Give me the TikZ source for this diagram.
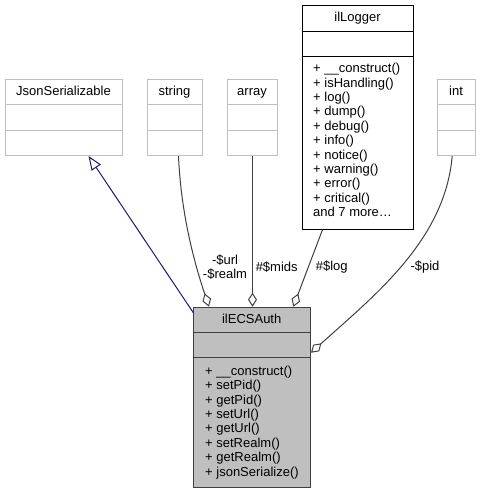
\documentclass[tikz,border=0pt]{standalone}
\usepackage{fontspec}
\setmainfont{Liberation Sans}
\usetikzlibrary{arrows.meta}

\definecolor{boxgray}{RGB}{191,191,191}
\definecolor{edgegray}{RGB}{64,64,64}
\definecolor{inhblue}{RGB}{25,25,112}

\tikzset{
  classbox/.style = {draw, anchor = north west, inner sep = 0,
    line width = 1pt},
  ghostbox/.style = {classbox, draw = boxgray},
  classname/.style = {anchor = base, inner sep = 0,
    font = \fontsize{13}{14.4}\selectfont},
  member/.style = {anchor = base west, inner sep = 0,
    font = \fontsize{13}{14.4}\selectfont},
  edgelabel/.style = {align = center, inner sep = 0,
    font = \fontsize{13}{14.4}\selectfont},
  usage/.style = {draw = edgegray, line width = 1pt,
    -{Diamond[open, length = 14pt, width = 9pt]}},
  inherit/.style = {draw = inhblue, line width = 1pt,
    -{Triangle[open, length = 14pt, width = 11pt]}}
}

\begin{document}
\begin{tikzpicture}[x = 1pt, y = -1pt]

  \useasboundingbox (0, 0) rectangle (481, 492);

  % the empty classes in the top row
  \foreach \name/\txt/\x/\w in {json/JsonSerializable/5/117,
      str/string/147/55, arr/array/227/50, int/int/437/38} {
    \node[ghostbox, minimum width = \w, minimum height = 76]
      (\name) at (\x, 79) {};
    \node[classname] (\name-t) at (\x + \w/2, 95.7) {\txt};
    \draw[boxgray] (\x, 104.5) -- ++(\w, 0);
    \draw[boxgray] (\x, 130) -- ++(\w, 0);
  }

  % ilLogger
  \node[classbox, minimum width = 111.6, minimum height = 223.7]
    (log) at (301.7, 5) {};
  \node[classname] (log-t) at (357.5, 21.7) {ilLogger};
  \draw (301.7, 31.7) -- ++(111.6, 0);
  \draw (301.7, 56.7) -- ++(111.6, 0);
  \foreach \m [count = \i from 0] in {+ \_\_construct(), + isHandling(),
      + log(), + dump(), + debug(), + info(), + notice(), + warning(),
      + error(), + critical(), {and 7 more\ldots}} {
    \node[member] (log-m\i) at (313, 72.7 + 14.4*\i) {\m};
  }

  % ilECSAuth
  \node[classbox, draw = edgegray, fill = boxgray, minimum width = 116.7,
    minimum height = 180] (ecs) at (193.3, 306.7) {};
  \node[classname] (ecs-t) at (251.7, 323.4) {ilECSAuth};
  \draw[edgegray, line width = 1pt] (193.3, 332.3) -- ++(116.7, 0);
  \draw[edgegray, line width = 1pt] (193.3, 357.7) -- ++(116.7, 0);
  \foreach \m [count = \i from 0] in {\_\_construct(), setPid(), getPid(),
      setUrl(), getUrl(), setRealm(), getRealm(), jsonSerialize()} {
    \node[member] (ecs-m\i) at (205, 375.3 + 14.4*\i) {+ \m};
  }

  % relations
  \draw[inherit] ([yshift = -6]ecs.north west) -- ([xshift = 24.5]json.south);
  \draw[usage] ([xshift = 3.5]str.south)
    .. controls (181, 215) and (195, 265) .. ([xshift = 15.7]ecs.north west);
  \draw[usage] (arr.south) -- (arr.south |- ecs.north);
  \draw[usage] ([xshift = -35.5]log.south) -- ([xshift = 100]ecs.north west);
  \draw[usage] ([xshift = -4.3]int.south)
    .. controls (445, 240) and (375, 295) .. ([yshift = -46]ecs.north east);

  \node[edgelabel] (url) at (225, 267.2) {-\$url\\-\$realm};
  \node[edgelabel] (mids) at (276.7, 266.7) {\#\$mids};
  \node[edgelabel] (logl) at (331.7, 266.7) {\#\$log};
  \node[edgelabel] (pid) at (425, 266.7) {-\$pid};

\end{tikzpicture}
\end{document}
